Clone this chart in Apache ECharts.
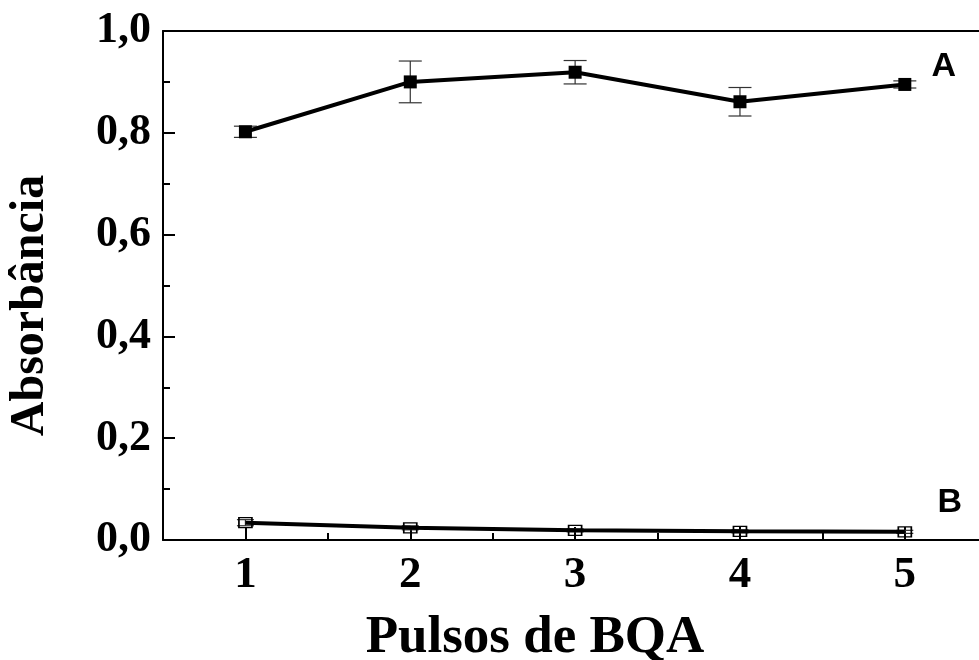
<!DOCTYPE html>
<html>
<head>
<meta charset="utf-8">
<title>Absorbância vs Pulsos de BQA</title>
<script src="https://cdn.jsdelivr.net/npm/echarts@6/dist/echarts.min.js"></script>
<style>
  html, body { margin: 0; padding: 0; background: #fff; }
  #chart { width: 979px; height: 660px; }
</style>
</head>
<body>
<div id="chart"></div>
<script>
// Pulse number on the x axis
const pulses = [1, 2, 3, 4, 5];
// Series A: absorbance and its standard deviation
const absorbA = [0.802, 0.900, 0.919, 0.861, 0.895];
const errorA = [0.011, 0.041, 0.023, 0.028, 0.007];
// Series B: absorbance and its standard deviation
const absorbB = [0.034, 0.024, 0.019, 0.017, 0.016];
const errorB = [0.006, 0.004, 0.003, 0.003, 0.003];
// Axis ticks
const xMajorTicks = [1, 2, 3, 4, 5];
const xMinorTicks = [1.5, 2.5, 3.5, 4.5];
const seriesNames = ['A', 'B'];

const serif = "'Liberation Serif', 'Times New Roman', serif";
const sans = "'Liberation Sans', Arial, sans-serif";
const xMin = 0.5, xMax = 5.45;

function pairs(vals) { return pulses.map((p, i) => [p, vals[i]]); }
function errPairs(vals, errs) { return pulses.map((p, i) => [p, vals[i], errs[i]]); }

function errorBarRenderer(capWidth) {
  return function (params, api) {
    const x = api.value(0), y = api.value(1), e = api.value(2);
    const hi = api.coord([x, y + e]);
    const lo = api.coord([x, y - e]);
    const h = capWidth / 2;
    const style = { stroke: '#333', lineWidth: 1.2 };
    return {
      type: 'group',
      children: [
        { type: 'line', shape: { x1: hi[0], y1: hi[1], x2: lo[0], y2: lo[1] }, style },
        { type: 'line', shape: { x1: hi[0] - h, y1: hi[1], x2: hi[0] + h, y2: hi[1] }, style },
        { type: 'line', shape: { x1: lo[0] - h, y1: lo[1], x2: lo[0] + h, y2: lo[1] }, style }
      ]
    };
  };
}

function lastLabel(vals, name, offset) {
  return pairs(vals).map((d, i) => i === vals.length - 1
    ? { value: d, label: { show: true, formatter: name, position: 'inside', offset,
        fontFamily: sans, fontWeight: 'bold', fontSize: 34, color: '#000' } }
    : d);
}

const axisLine = { show: true, lineStyle: { color: '#000', width: 2 } };

const option = {
  animation: false,
  backgroundColor: '#fff',
  grid: { left: 163, right: 0, top: 31, bottom: 120, containLabel: false, outerBoundsMode: 'none' },
  xAxis: [
    {
      type: 'value', min: xMin, max: xMax, position: 'bottom',
      axisLine,
      axisTick: { show: true, inside: true, length: 13, customValues: xMajorTicks,
        lineStyle: { color: '#000', width: 2 } },
      axisLabel: { customValues: xMajorTicks, margin: 13, color: '#000',
        fontFamily: serif, fontWeight: 'bold', fontSize: 45 },
      splitLine: { show: false },
      name: 'Pulsos de BQA', nameLocation: 'middle', nameGap: 72,
      nameTextStyle: { fontFamily: serif, fontWeight: 'bold', fontSize: 53, color: '#000',
        padding: [0, 72, 0, 0] }
    },
    {
      type: 'value', min: xMin, max: xMax, position: 'bottom',
      axisLine: { show: false },
      axisTick: { show: true, inside: true, length: 7, customValues: xMinorTicks,
        lineStyle: { color: '#000', width: 2 } },
      axisLabel: { show: false },
      splitLine: { show: false }
    },
    {
      type: 'value', min: xMin, max: xMax, position: 'top',
      axisLine,
      axisTick: { show: false },
      axisLabel: { show: false },
      splitLine: { show: false }
    }
  ],
  yAxis: {
    type: 'value', min: 0, max: 1, interval: 0.2,
    axisLine,
    axisTick: { show: true, inside: true, length: 12, lineStyle: { color: '#000', width: 2 } },
    minorTick: { show: true, splitNumber: 2, length: 7, lineStyle: { color: '#000', width: 2 } },
    axisLabel: { margin: 12, color: '#000', fontFamily: serif, fontWeight: 'bold', fontSize: 44,
      formatter: v => v.toFixed(1).replace('.', ',') },
    splitLine: { show: false },
    name: 'Absorbância', nameLocation: 'middle', nameGap: 108,
    nameTextStyle: { fontFamily: serif, fontWeight: 'bold', fontSize: 48, color: '#000',
      padding: [0, 40, 0, 0] }
  },
  series: [
    {
      type: 'custom', xAxisIndex: 0, z: 1,
      renderItem: errorBarRenderer(23),
      encode: { x: 0, y: 1 },
      data: errPairs(absorbA, errorA)
    },
    {
      type: 'custom', xAxisIndex: 0, z: 1,
      renderItem: errorBarRenderer(17),
      encode: { x: 0, y: 1 },
      data: errPairs(absorbB, errorB)
    },
    {
      name: seriesNames[0], type: 'line', xAxisIndex: 0, z: 3,
      symbol: 'rect', symbolSize: [13, 13],
      lineStyle: { color: '#000', width: 4 },
      itemStyle: { color: '#000' },
      data: lastLabel(absorbA, seriesNames[0], [39, -18])
    },
    {
      name: seriesNames[1], type: 'line', xAxisIndex: 0, z: 3,
      symbol: 'rect', symbolSize: [13, 10],
      lineStyle: { color: '#000', width: 4 },
      itemStyle: { color: 'rgba(0,0,0,0)', borderColor: '#000', borderWidth: 1.5 },
      data: lastLabel(absorbB, seriesNames[1], [45, -29])
    }
  ]
};

const chart = echarts.init(document.getElementById('chart'), null, { renderer: 'canvas' });
chart.setOption(option);
</script>
</body>
</html>
